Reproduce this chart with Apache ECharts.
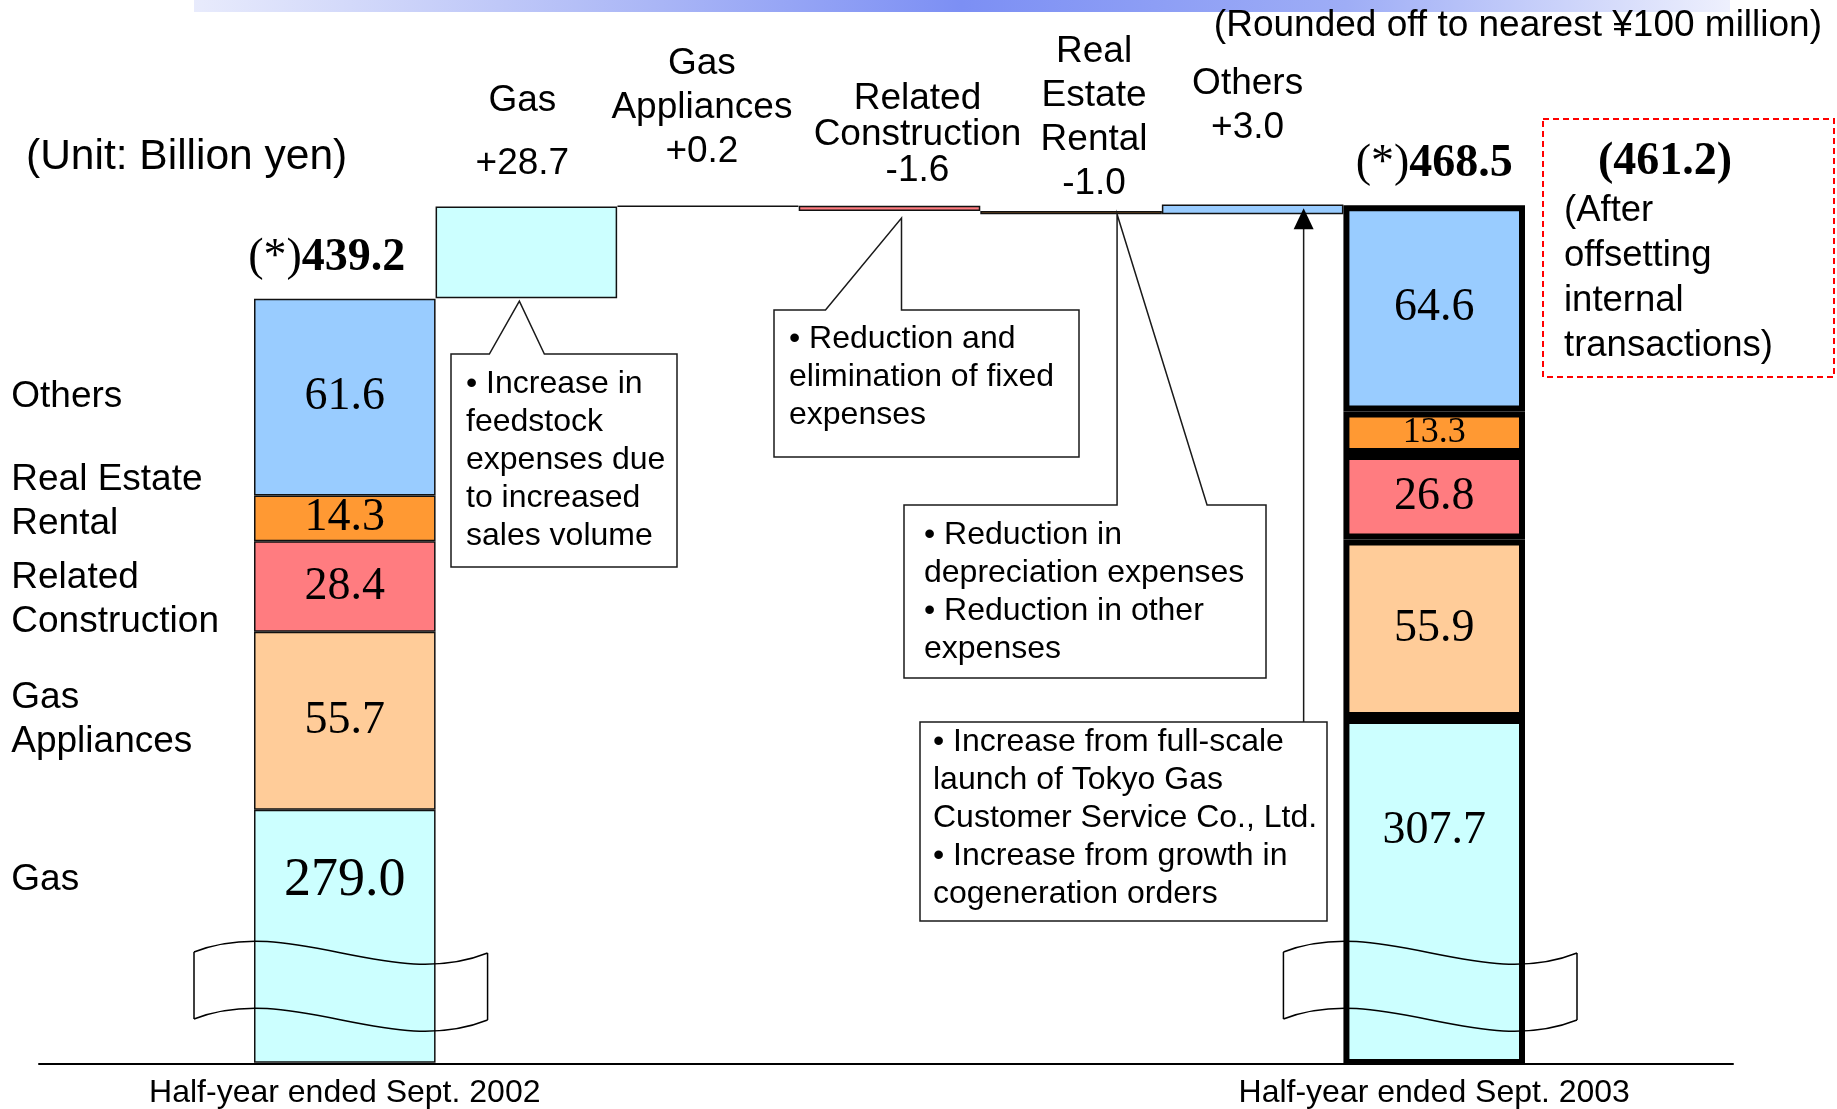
<!DOCTYPE html>
<html>
<head>
<meta charset="utf-8">
<script src="https://cdn.jsdelivr.net/npm/echarts@6/dist/echarts.min.js"></script>
<style>
  html, body { margin: 0; padding: 0; background: #ffffff; }
  #chart { width: 1837px; height: 1109px; }
</style>
</head>
<body>
<div id="chart"></div>
<script>
// Bridge categories: opening total, five segment changes, closing total
const categories = ['Half-year ended Sept. 2002', 'Gas', 'Gas Appliances', 'Related Construction', 'Real Estate Rental', 'Others', 'Half-year ended Sept. 2003'];

// Segment breakdown of both half-years, bottom to top of the stack (billion yen)
const segmentNames = ['Gas', 'Gas Appliances', 'Related Construction', 'Real Estate Rental', 'Others'];
const segmentLabels = ['Gas', 'Gas\nAppliances', 'Related\nConstruction', 'Real Estate\nRental', 'Others'];
const values2002 = [279.0, 55.7, 28.4, 14.3, 61.6];
const values2003 = [307.7, 55.9, 26.8, 13.3, 64.6];

// Reported totals (billion yen)
const total2002 = 439.2;
const total2003 = 468.5;
const total2003AfterOffset = 461.2;

// Change by segment, in bridge order
const changeNames = ['Gas', 'Gas\nAppliances', 'Related\nConstruction', 'Real\nEstate\nRental', 'Others'];
const changes = [28.7, 0.2, -1.6, -1.0, 3.0];

// Explanatory notes attached to the bridge steps (category index they point at)
const noteTargets = [1, 3, 4, 5];
const noteTexts = [
  ['• Increase in', 'feedstock', 'expenses due', 'to increased', 'sales volume'],
  ['• Reduction and', 'elimination of fixed', 'expenses'],
  ['• Reduction in', 'depreciation expenses', '• Reduction in other', 'expenses'],
  ['• Increase from full-scale', 'launch of Tokyo Gas', 'Customer Service Co., Ltd.', '• Increase from growth in', 'cogeneration orders']
];

const segmentColors = ['#CCFFFF', '#FFCC99', '#FF7C80', '#FF9933', '#99CCFF'];
const SANS = 'Liberation Sans';
const SERIF = 'Liberation Serif';
const yMin = 200, yMax = 500;

// Waterfall: invisible base + visible step for each change
const bridgeBase = [];
const bridgeStep = [];
let level = total2002;
changes.forEach(d => {
  const next = Math.round((level + d) * 10) / 10;
  bridgeBase.push(Math.min(level, next));
  bridgeStep.push(Math.abs(d));
  level = next;
});

const fmtChange = v => (v > 0 ? '+' : '-') + Math.abs(v).toFixed(1);

// Caption layout of each bridge step
const stepLabelStyle = [
  { text: i => `{tall|${changeNames[i]}}\n{nm|${fmtChange(changes[i])}}`, distance: 21, offset: [-4, 0] },
  { text: i => changeNames[i].split('\n').map(s => `{nm|${s}}`).join('\n') + `\n{nm|${fmtChange(changes[i])}}`, distance: 32, offset: [-6, 0] },
  { text: i => changeNames[i].split('\n').map(s => `{tight|${s}}`).join('\n') + `\n{tight|${fmtChange(changes[i])}}`, distance: 17, offset: [28, 0] },
  { text: i => changeNames[i].split('\n').map(s => `{nm|${s}}`).join('\n') + `\n{nm|${fmtChange(changes[i])}}`, distance: 5, offset: [23, 0] },
  { text: i => `{nm|${changeNames[i]}}\n{nm|${fmtChange(changes[i])}}`, distance: 55, offset: [-5, 0] }
];

const labelRich = {
  nm: { fontFamily: SANS, fontSize: 37, lineHeight: 44, color: '#000' },
  tall: { fontFamily: SANS, fontSize: 37, lineHeight: 82, color: '#000' },
  tight: { fontFamily: SANS, fontSize: 37, lineHeight: 36, color: '#000' }
};

// Stacked segment series for the two half-year bars
const segmentSeries = segmentNames.map((name, i) => ({
  name,
  type: 'bar',
  stack: 'total',
  barCategoryGap: '0%',
  clip: true,
  silent: true,
  itemStyle: { color: segmentColors[i], borderColor: '#111', borderWidth: 1.5 },
  label: {
    show: true,
    position: 'inside',
    fontFamily: SERIF,
    fontSize: 46,
    color: '#000',
    formatter: p => Number(p.value).toFixed(1)
  },
  data: categories.map((c, ci) => {
    if (ci === 0) {
      const item = { value: values2002[i] };
      if (i === 0) item.label = { position: 'insideTop', distance: 44, fontSize: 54 };
      return item;
    }
    if (ci === categories.length - 1) {
      const item = {
        value: values2003[i],
        itemStyle: { borderColor: '#000', borderWidth: 6 },
        label: { fontSize: i === 3 ? 36 : 46 }
      };
      if (i === 0) item.label = { position: 'insideTop', distance: 90, fontSize: 46 };
      return item;
    }
    return '-';
  })
}));

// Anchors for the segment names written left of the 2002 bar
const nameAnchors = [];
let cum = 0;
values2002.forEach((v, i) => {
  nameAnchors.push(i === 0 ? [0, v] : [0, cum + v / 2]);
  cum += v;
});
// Vertical nudges keep the two-line names of the thin segments apart
const nameOffsets = [[0, 71], [0, 0], [0, 14], [0, -16], [0, 0]];

const option = {
  animation: false,
  backgroundColor: '#ffffff',
  grid: [
    { left: 254, right: 312, top: 104, bottom: 45 },
    { left: 39, right: 104, bottom: 45, height: 1 }
  ],
  xAxis: [
    {
      type: 'category',
      gridIndex: 0,
      data: categories,
      axisLine: { show: false },
      axisTick: { show: false },
      axisLabel: {
        interval: 0,
        margin: 15,
        fontFamily: SANS,
        fontSize: 32,
        color: '#000',
        formatter: (v, i) => (i === 0 || i === categories.length - 1) ? v : ''
      }
    },
    {
      type: 'value',
      gridIndex: 1,
      min: 0,
      max: 1,
      axisLine: { show: true, lineStyle: { color: '#000', width: 2 } },
      axisTick: { show: false },
      axisLabel: { show: false },
      splitLine: { show: false }
    }
  ],
  yAxis: [
    { type: 'value', gridIndex: 0, min: yMin, max: yMax, show: false, splitLine: { show: false } },
    { type: 'value', gridIndex: 1, show: false, splitLine: { show: false } }
  ],
  graphic: [
    {
      type: 'rect',
      x: 194, y: 0,
      shape: { width: 1536, height: 12 },
      style: {
        fill: new echarts.graphic.LinearGradient(0, 0, 1, 0, [
          { offset: 0, color: '#e8ebfc' },
          { offset: 0.3, color: '#aab6f6' },
          { offset: 0.5, color: '#7c8ff4' },
          { offset: 0.75, color: '#9eadf6' },
          { offset: 1, color: '#eef0fd' }
        ])
      },
      silent: true
    },
    {
      type: 'text',
      x: 26, y: 157,
      style: { text: '(Unit: Billion yen)', fontFamily: SANS, fontSize: 42.5, fill: '#000', align: 'left', verticalAlign: 'middle' }
    },
    {
      type: 'text',
      x: 1822, y: 26,
      style: { text: '(Rounded off to nearest ¥100 million)', fontFamily: SANS, fontSize: 37, fill: '#000', align: 'right', verticalAlign: 'middle' }
    },
    {
      type: 'rect',
      x: 1543, y: 119,
      shape: { width: 291, height: 258 },
      style: { fill: 'none', stroke: '#ff0000', lineWidth: 2, lineDash: [6, 4] },
      silent: true
    },
    {
      type: 'text',
      x: 1665, y: 162,
      style: { text: '(' + total2003AfterOffset.toFixed(1) + ')', fontFamily: SERIF, fontWeight: 'bold', fontSize: 46, fill: '#000', align: 'center', verticalAlign: 'middle' }
    },
    {
      type: 'text',
      x: 1564, y: 188,
      style: { text: '(After\noffsetting\ninternal\ntransactions)', fontFamily: SANS, fontSize: 36.5, lineHeight: 45, fill: '#000', align: 'left', verticalAlign: 'top' }
    }
  ],
  series: [
    ...segmentSeries,
    {
      name: 'bridge base',
      type: 'bar',
      stack: 'total',
      barCategoryGap: '0%',
      clip: true,
      silent: true,
      itemStyle: { color: 'transparent', borderWidth: 0 },
      data: ['-', ...bridgeBase, '-']
    },
    {
      name: 'change',
      type: 'bar',
      stack: 'total',
      barCategoryGap: '0%',
      clip: true,
      silent: true,
      itemStyle: { borderColor: '#111', borderWidth: 1.5 },
      label: {
        show: true,
        position: 'top',
        rich: labelRich,
        formatter: p => stepLabelStyle[p.dataIndex - 1].text(p.dataIndex - 1)
      },
      data: ['-', ...bridgeStep.map((v, i) => ({
        value: v,
        itemStyle: { color: segmentColors[i] },
        label: { distance: stepLabelStyle[i].distance, offset: stepLabelStyle[i].offset }
      })), '-']
    },
    {
      name: 'totals',
      type: 'scatter',
      silent: true,
      symbolSize: 1,
      itemStyle: { color: 'transparent', opacity: 1 },
      z: 5,
      label: {
        show: true,
        position: 'top',
        distance: 17,
        formatter: p => `{p|(*)}{b|${p.value[1].toFixed(1)}}`,
        rich: {
          p: { fontFamily: SERIF, fontSize: 46, color: '#000' },
          b: { fontFamily: SERIF, fontSize: 46, fontWeight: 'bold', color: '#000' }
        }
      },
      data: [
        { value: [0, total2002], label: { offset: [-18, 0] } },
        { value: [categories.length - 1, total2003] }
      ]
    },
    {
      name: 'segment names',
      type: 'scatter',
      silent: true,
      symbolSize: 1,
      itemStyle: { color: 'transparent', opacity: 1 },
      z: 5,
      label: {
        show: true,
        position: [-333, 0],
        align: 'left',
        verticalAlign: 'middle',
        fontFamily: SANS,
        fontSize: 37,
        lineHeight: 44,
        color: '#000',
        formatter: p => segmentLabels[p.dataIndex]
      },
      data: nameAnchors.map((a, i) => ({ value: a, label: { offset: nameOffsets[i] } }))
    },
    {
      // axis-break marks across the two half-year bars
      name: 'breaks',
      type: 'custom',
      silent: true,
      z: 9,
      data: [[0, yMin], [categories.length - 1, yMin]],
      renderItem: (params, api) => {
        const c = api.coord([api.value(0), api.value(1)]);
        const bw = api.size([1, 0])[0];
        const L = c[0] - bw / 2 - 60;
        const R = c[0] + bw / 2 + 52;
        const w = R - L;
        const y0 = c[1] - 110;
        const gap = 67;
        const wave = y => `M${L},${y} C${L + w / 3},${y - 38} ${L + 2 * w / 3},${y + 40} ${R},${y + 1}`;
        return {
          type: 'path',
          shape: {
            pathData: wave(y0) + ' ' + wave(y0 + gap) +
              ` M${L},${y0} L${L},${y0 + gap} M${R},${y0 + 1} L${R},${y0 + gap + 1}`
          },
          style: { fill: 'none', stroke: '#000', lineWidth: 1.5 }
        };
      }
    },
    {
      // callout boxes explaining the changes
      name: 'notes',
      type: 'custom',
      silent: true,
      z: 10,
      data: noteTargets.map(t => [t, bridgeBase[t - 1]]),
      renderItem: (params, api) => {
        const i = params.dataIndex;
        const layouts = [
          { box: [451, 354, 226, 213], text: [466, 365], tipDx: -7, tipDy: 3, base: [-30, 25] },
          { box: [774, 310, 305, 147], text: [789, 320], tipDx: 12, tipDy: 7, base: [-76, 0] },
          { box: [904, 505, 362, 173], text: [924, 516], tipDx: 46, tipDy: 0, base: [0, 90] },
          { box: [920, 722, 407, 199], text: [933, 723], tipDx: 51, tipDy: -6, arrow: true }
        ];
        const lay = layouts[i];
        const p = api.coord([api.value(0), api.value(1)]);
        const tx = p[0] + lay.tipDx;
        const ty = p[1] + lay.tipDy;
        const [bx, by, bw, bh] = lay.box;
        const stroke = { stroke: '#1a1a1a', lineWidth: 1.5 };
        const children = [];
        if (lay.arrow) {
          children.push({ type: 'rect', shape: { x: bx, y: by, width: bw, height: bh }, style: Object.assign({ fill: '#fff' }, stroke) });
          children.push({ type: 'line', shape: { x1: tx, y1: by, x2: tx, y2: ty + 18 }, style: stroke });
          children.push({ type: 'polygon', shape: { points: [[tx, ty], [tx - 10, ty + 21], [tx + 10, ty + 21]] }, style: { fill: '#000' } });
        } else {
          children.push({
            type: 'polygon',
            shape: {
              points: [
                [bx, by], [tx + lay.base[0], by], [tx, ty], [tx + lay.base[1], by],
                [bx + bw, by], [bx + bw, by + bh], [bx, by + bh]
              ]
            },
            style: Object.assign({ fill: '#fff' }, stroke)
          });
        }
        children.push({
          type: 'text',
          x: lay.text[0],
          y: lay.text[1],
          style: {
            text: noteTexts[i].join('\n'),
            fontFamily: SANS,
            fontSize: 32,
            lineHeight: 38,
            fill: '#000',
            align: 'left',
            verticalAlign: 'top'
          }
        });
        return { type: 'group', children };
      }
    }
  ]
};

const chart = echarts.init(document.getElementById('chart'), null, { renderer: 'canvas', width: 1837, height: 1109 });
chart.setOption(option);
</script>
</body>
</html>
